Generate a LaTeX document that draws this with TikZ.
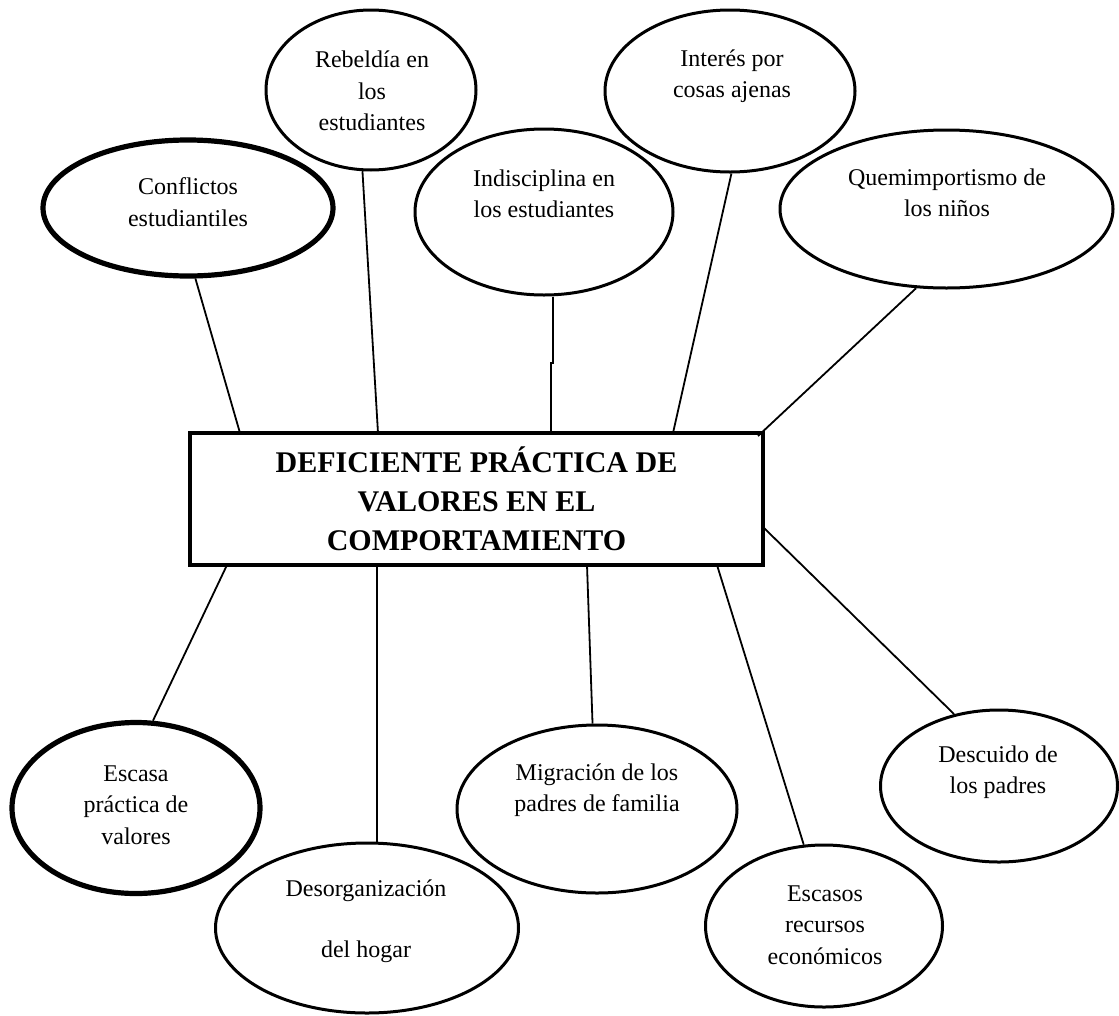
\documentclass[tikz,border=0pt]{standalone}
\usepackage{fontspec}
\setmainfont{Liberation Serif}
\usetikzlibrary{shapes.geometric}
\begin{document}
\begin{tikzpicture}[x=1pt,y=-1pt,
  oval/.style={draw, ellipse, line width=3pt, inner sep=0pt},
  thickoval/.style={oval, line width=5.2pt},
  lbl/.style={align=center, font=\fontsize{24}{31.5}\selectfont, inner sep=0pt},
  link/.style={line width=1.8pt},
  corebox/.style={draw, rectangle, line width=4pt, minimum width=573pt, minimum height=132pt, align=center, font=\bfseries\fontsize{30}{39}\selectfont, inner sep=0pt}]
\useasboundingbox[fill=white] (0,0) rectangle (1119,1015);

% central box
\node[corebox] (core) at (476.5,499) {DEFICIENTE PRÁCTICA DE\\VALORES EN EL\\COMPORTAMIENTO};

% ellipses
\node[thickoval, minimum width=290pt, minimum height=136pt] (e1) at (188,208) {};
\node[lbl] (t1) at (188,202) {Conflictos\\estudiantiles};

\node[oval, minimum width=210pt, minimum height=160pt] (e2) at (371,90) {};
\node[lbl] (t2) at (372,91) {Rebeldía en\\los\\estudiantes};

\node[oval, minimum width=258pt, minimum height=166pt] (e3) at (544,212) {};
\node[lbl] (t3) at (544,194) {Indisciplina en\\los estudiantes};

\node[oval, minimum width=250pt, minimum height=162pt] (e4) at (730,91) {};
\node[lbl] (t4) at (732,76) {Interés por\\cosas ajenas};

\node[oval, minimum width=333pt, minimum height=158pt] (e5) at (946.5,209) {};
\node[lbl] (t5) at (947,193) {Quemimportismo de\\los niños};

\node[thickoval, minimum width=248pt, minimum height=171pt] (e6) at (136,808) {};
\node[lbl] (t6) at (136,805) {Escasa\\práctica de\\valores};

\node[oval, minimum width=303pt, minimum height=170pt] (e7) at (367,928) {};
\node[lbl] (t7) at (366,921) {Desorganización\\[30pt]del hogar};

\node[oval, minimum width=280pt, minimum height=168pt] (e8) at (597,809) {};
\node[lbl] (t8) at (597,790) {Migración de los\\padres de familia};

\node[oval, minimum width=237pt, minimum height=162pt] (e9) at (824,926) {};
\node[lbl] (t9) at (825,925) {Escasos\\recursos\\económicos};

\node[oval, minimum width=237pt, minimum height=152pt] (e10) at (999,786) {};
\node[lbl] (t10) at (998,772) {Descuido de\\los padres};

% box end points
\coordinate (b1) at (240,433);
\coordinate (b2) at (378,433);
\coordinate (j1) at (553,363);
\coordinate (j2) at (551,363);
\coordinate (b3) at (551,433);
\coordinate (b4) at (673,433);
\coordinate (b5) at (758,436);
\coordinate (b6) at (227,565);
\coordinate (b7) at (377,565);
\coordinate (b8) at (587,565);
\coordinate (b9) at (717,565);
\coordinate (b10) at (763,527);

% connectors
\draw[link] (e1.-84) -- (b1);
\draw[link] (e2.-96) -- (b2);
\draw[link] (j1 |- e3.south) -- (j1) -- (j2) -- (b3);
\draw[link] (e4.-89) -- (b4);
\draw[link] (e5.-111) -- (b5);
\draw[link] (b6) -- (e6.79);
\draw[link] (b7) -- (b7 |- e7.north);
\draw[link] (b8) -- (e8.93);
\draw[link] (b9) -- (e9.104);
\draw[link] (b10) -- (e10.122);
\end{tikzpicture}
\end{document}
